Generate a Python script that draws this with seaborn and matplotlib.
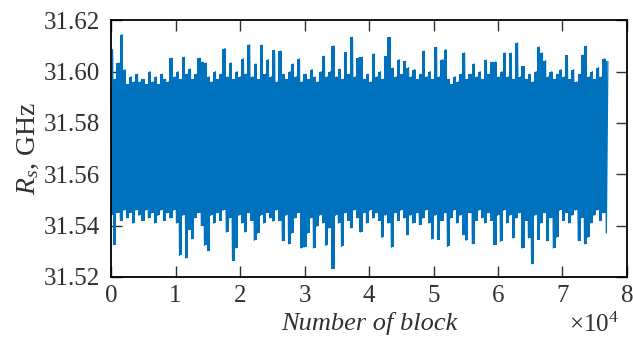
import numpy as np
import pandas as pd
import matplotlib
matplotlib.use("Agg")
import matplotlib.pyplot as plt
from matplotlib.ticker import FuncFormatter
import seaborn as sns

# ---- data (per-group max / min of Rs, GHz) ----
block_step = 483          # blocks per group
n_groups = 160
rs_max = [
    31.6086, 31.597, 31.6034, 31.6144, 31.6008, 31.595, 31.598, 31.596, 31.599, 31.596,
    31.597, 31.595, 31.600, 31.596, 31.598, 31.595, 31.599, 31.597, 31.596, 31.6053,
    31.598, 31.600, 31.597, 31.6056, 31.599, 31.601, 31.597, 31.599, 31.6053, 31.6037,
    31.6034, 31.598, 31.596, 31.600, 31.597, 31.599, 31.609, 31.598, 31.6034, 31.597,
    31.600, 31.598, 31.605, 31.599, 31.6105, 31.598, 31.603, 31.597, 31.6103, 31.599,
    31.6047, 31.598, 31.6083, 31.596, 31.608, 31.599, 31.597, 31.600, 31.603, 31.598,
    31.605, 31.596, 31.599, 31.597, 31.6008, 31.598, 31.596, 31.600, 31.606, 31.598,
    31.600, 31.610, 31.598, 31.601, 31.597, 31.6075, 31.599, 31.6134, 31.598, 31.6053,
    31.6056, 31.597, 31.599, 31.596, 31.6069, 31.598, 31.600, 31.597, 31.606, 31.6134,
    31.6014, 31.598, 31.6047, 31.599, 31.604, 31.6016, 31.598, 31.6008, 31.597, 31.599,
    31.608, 31.598, 31.600, 31.597, 31.6095, 31.598, 31.6047, 31.6086, 31.597, 31.595,
    31.598, 31.596, 31.599, 31.6073, 31.597, 31.599, 31.603, 31.598, 31.600, 31.597,
    31.6045, 31.599, 31.6037, 31.6038, 31.598, 31.600, 31.6073, 31.598, 31.6072, 31.597,
    31.6112, 31.598, 31.602, 31.597, 31.599, 31.596, 31.600, 31.6096, 31.6073, 31.6043,
    31.598, 31.600, 31.597, 31.599, 31.6008, 31.598, 31.6063, 31.597, 31.6008, 31.596,
    31.599, 31.6064, 31.6099, 31.598, 31.600, 31.597, 31.6016, 31.598, 31.605, 31.604,
]
rs_min = [
    31.544, 31.5326, 31.545, 31.542, 31.546, 31.543, 31.545, 31.541, 31.546, 31.544,
    31.542, 31.546, 31.543, 31.545, 31.541, 31.544, 31.546, 31.542, 31.545, 31.543,
    31.546, 31.541, 31.5284, 31.544, 31.5274, 31.5384, 31.5349, 31.543, 31.545, 31.540,
    31.5323, 31.5303, 31.544, 31.541, 31.545, 31.542, 31.546, 31.5375, 31.543, 31.5264,
    31.5313, 31.544, 31.541, 31.5375, 31.545, 31.542, 31.5343, 31.5371, 31.544, 31.541,
    31.545, 31.543, 31.5417, 31.546, 31.542, 31.5341, 31.544, 31.5329, 31.5371, 31.543,
    31.545, 31.5313, 31.5316, 31.5371, 31.543, 31.5313, 31.5397, 31.544, 31.541, 31.5323,
    31.5391, 31.5233, 31.544, 31.541, 31.5319, 31.545, 31.542, 31.5391, 31.546, 31.543,
    31.5375, 31.545, 31.541, 31.546, 31.543, 31.545, 31.542, 31.5354, 31.544, 31.541,
    31.5316, 31.545, 31.542, 31.546, 31.543, 31.5365, 31.544, 31.541, 31.545, 31.5404,
    31.543, 31.546, 31.541, 31.5348, 31.544, 31.5346, 31.542, 31.545, 31.5319, 31.543,
    31.546, 31.541, 31.544, 31.5365, 31.5343, 31.545, 31.5329, 31.542, 31.546, 31.543,
    31.541, 31.545, 31.542, 31.5326, 31.544, 31.5339, 31.546, 31.541, 31.544, 31.5352,
    31.543, 31.545, 31.5313, 31.542, 31.5352, 31.5251, 31.544, 31.5346, 31.541, 31.545,
    31.5341, 31.543, 31.5313, 31.5355, 31.546, 31.542, 31.545, 31.541, 31.544, 31.546,
    31.5341, 31.543, 31.5329, 31.5355, 31.541, 31.544, 31.546, 31.542, 31.545, 31.5371,
]
y_ticks = [31.52, 31.54, 31.56, 31.58, 31.60, 31.62]
x_ticks = [0, 10000, 20000, 30000, 40000, 50000, 60000, 70000, 80000]
x_scale = 10000

# ---- build the plotting table ----
blocks = np.arange(n_groups) * block_step
xs = np.empty(2 * n_groups)
ys = np.empty(2 * n_groups)
xs[0::2] = blocks
xs[1::2] = blocks + block_step / 2
ys[0::2] = rs_min
ys[1::2] = rs_max
df = pd.DataFrame({"block": xs, "rs": ys})

sns.set_theme(style="ticks")
plt.rcParams["font.family"] = ["Liberation Serif", "DejaVu Serif"]
plt.rcParams["mathtext.fontset"] = "custom"
plt.rcParams["mathtext.rm"] = "Liberation Serif"
plt.rcParams["mathtext.it"] = "Liberation Serif:italic"

blue = "#0072BD"
fig = plt.figure(figsize=(6.33, 3.38), dpi=100)
ax = fig.add_axes([0.1754, 0.1805, 0.8151, 0.7595])

# min/max envelope of every group of blocks
ax.fill_between(blocks + block_step / 4, rs_min, rs_max, step="mid",
                color=blue, lw=0, zorder=1)
# the signal trace itself (alternating min / max of each group)
sns.lineplot(data=df, x="block", y="rs", sort=False, estimator=None,
             color=blue, linewidth=0.9, ax=ax, zorder=2)

ax.set_xlim(x_ticks[0], x_ticks[-1])
ax.set_ylim(y_ticks[0], y_ticks[-1])
ax.set_xticks(x_ticks)
ax.set_yticks(y_ticks)
ax.set_yticklabels([f"{v:.2f}" for v in y_ticks])
ax.xaxis.set_major_formatter(FuncFormatter(lambda v, p: f"{v / x_scale:g}"))

tcol = "#303030"
ax.tick_params(direction="in", length=8, width=1.0, top=True, right=True,
               labelsize=18, colors=tcol, pad=6)
ax.tick_params(axis="y", pad=8)
for s in ax.spines.values():
    s.set_visible(True)
    s.set_linewidth(1.3)
    s.set_color("black")

ax.set_xlabel("Number of block", fontsize=19, style="italic", color=tcol, labelpad=3.5)
ax.set_ylabel(r"$R_s$, GHz", fontsize=20, color=tcol, labelpad=2)
fig.text(0.977, 0.018, r"$\times10^4$", ha="right", va="baseline",
         fontsize=18, color=tcol)

fig.savefig("out.png", dpi=100)
